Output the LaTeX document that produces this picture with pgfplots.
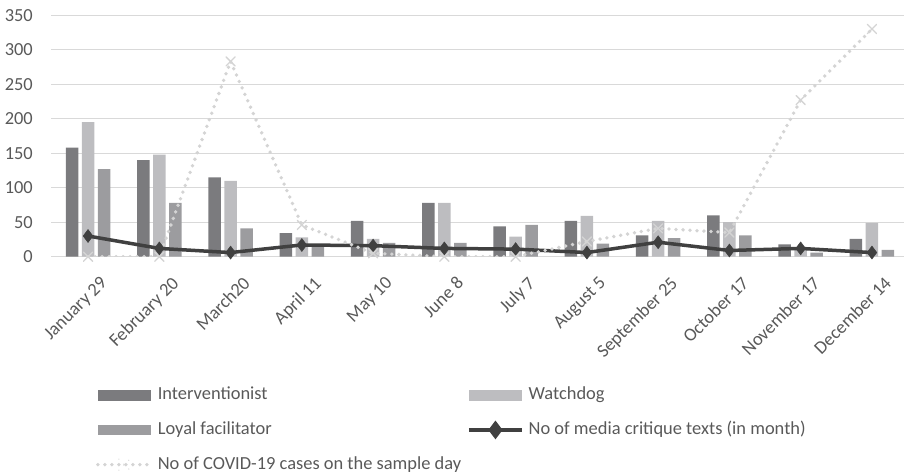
\documentclass[border=0pt]{standalone}
\usepackage{fontspec}
\setmainfont{Carlito}
\usepackage{pgfplots}
\pgfplotsset{compat=1.18}
\definecolor{intc}{HTML}{7B7B7E}
\definecolor{watc}{HTML}{BDBDC0}
\definecolor{loyc}{HTML}{9C9C9F}
\definecolor{linec}{HTML}{404040}
\definecolor{covc}{HTML}{D4D4D4}
\definecolor{gridc}{HTML}{D9D9D9}
\definecolor{txtc}{HTML}{595959}
\begin{document}
\begin{tikzpicture}
\begin{axis}[
  at={(0,0)}, anchor=south west,
  scale only axis, width=853bp, height=241.5bp,
  xmin=-0.52, xmax=11.45, ymin=0, ymax=350,
  axis line style={draw=none},
  ytick={0,50,...,350},
  xtick={0,...,11},
  xticklabels={January 29, February 20, March20, April 11, May 10, June 8, July 7, August 5, September 25, October 17, November 17, December 14},
  ymajorgrids, grid style={gridc, line width=1.2bp},
  major tick length=0pt,
  tick label style={font=\fontsize{18.5}{22}\selectfont, text=txtc},
  /pgf/number format/assume math mode=true,
  yticklabel style={anchor=east, inner sep=0pt, xshift=-18bp},
  xticklabel style={rotate=45, anchor=north east, inner sep=0pt, xshift=-5bp, yshift=-21bp},
  legend columns=2,
  legend cell align=left,
  legend style={at={(0.0528,-0.5385)}, anchor=north west, draw=none, fill=none,
    inner sep=0pt, outer sep=0pt,
    font=\fontsize{18.5}{22}\selectfont, text=txtc,
    nodes={inner sep=0pt, text height=13bp, text depth=4bp},
    /tikz/every odd column/.append style={column sep=5bp},
    /tikz/every even column/.append style={column sep=6bp},
    /tikz/row sep=17.7bp},
]
\addplot[ybar, bar width=12.5bp, bar shift=-16bp, fill=intc, draw=none,
  legend image code/.code={\fill[intc] (0bp,-5.3bp) rectangle (53bp,5.3bp);}]
  coordinates {(0,158) (1,140) (2,115) (3,34) (4,52) (5,78) (6,44) (7,52) (8,31) (9,60) (10,18) (11,26)};
\addlegendentry{Interventionist}
\addplot[ybar, bar width=12.5bp, bar shift=0bp, fill=watc, draw=none,
  legend image code/.code={\fill[watc] (0bp,-5.3bp) rectangle (53bp,5.3bp);}]
  coordinates {(0,195) (1,148) (2,110) (3,28) (4,26) (5,78) (6,29) (7,59) (8,52) (9,50) (10,10) (11,49)};
\addlegendentry{Watchdog}
\addplot[ybar, bar width=12.5bp, bar shift=16bp, fill=loyc, draw=none,
  legend image code/.code={\fill[loyc] (0bp,-5.3bp) rectangle (53bp,5.3bp);}]
  coordinates {(0,127) (1,78) (2,41) (3,18) (4,20) (5,20) (6,46) (7,19) (8,27) (9,31) (10,6) (11,10)};
\addlegendentry{Loyal facilitator}
\addplot[linec, line width=3.5bp, mark=diamond*, mark size=6.5bp,
  mark options={fill=linec, draw=linec, line width=0.5bp},
  legend image code/.code={\draw[linec, line width=3.5bp] (0bp,0bp) -- (53bp,0bp);
    \fill[linec] (26.5bp,6.5bp) -- (31.4bp,0bp) -- (26.5bp,-6.5bp) -- (21.6bp,0bp) -- cycle;}]
  coordinates {(0,30) (1,12) (2,6) (3,17) (4,16) (5,12) (6,11) (7,6) (8,21) (9,9) (10,12) (11,6)};
\addlegendentry{No of media critique texts (in month)}
\addplot[covc, line width=3.8bp, line cap=round, dash pattern=on 0bp off 7bp,
  mark=x, mark size=6.5bp, mark options={solid, line width=1.3bp, draw=covc},
  legend image code/.code={\draw[covc, line width=3.8bp, line cap=round, dash pattern=on 0bp off 7bp] (0bp,0bp) -- (53bp,0bp);
    \draw[covc, line width=1.3bp] (21bp,-5.5bp) -- (32bp,5.5bp) (21bp,5.5bp) -- (32bp,-5.5bp);}]
  coordinates {(0,0) (1,0) (2,283) (3,46) (4,5) (5,0) (6,0) (7,22) (8,41) (9,35) (10,227) (11,330)};
\addlegendentry{No of COVID-19 cases on the sample day}
\end{axis}
\pgfresetboundingbox
\path[use as bounding box] (-51bp,-216.3bp) rectangle (853bp,256.7bp);
\end{tikzpicture}
\end{document}
